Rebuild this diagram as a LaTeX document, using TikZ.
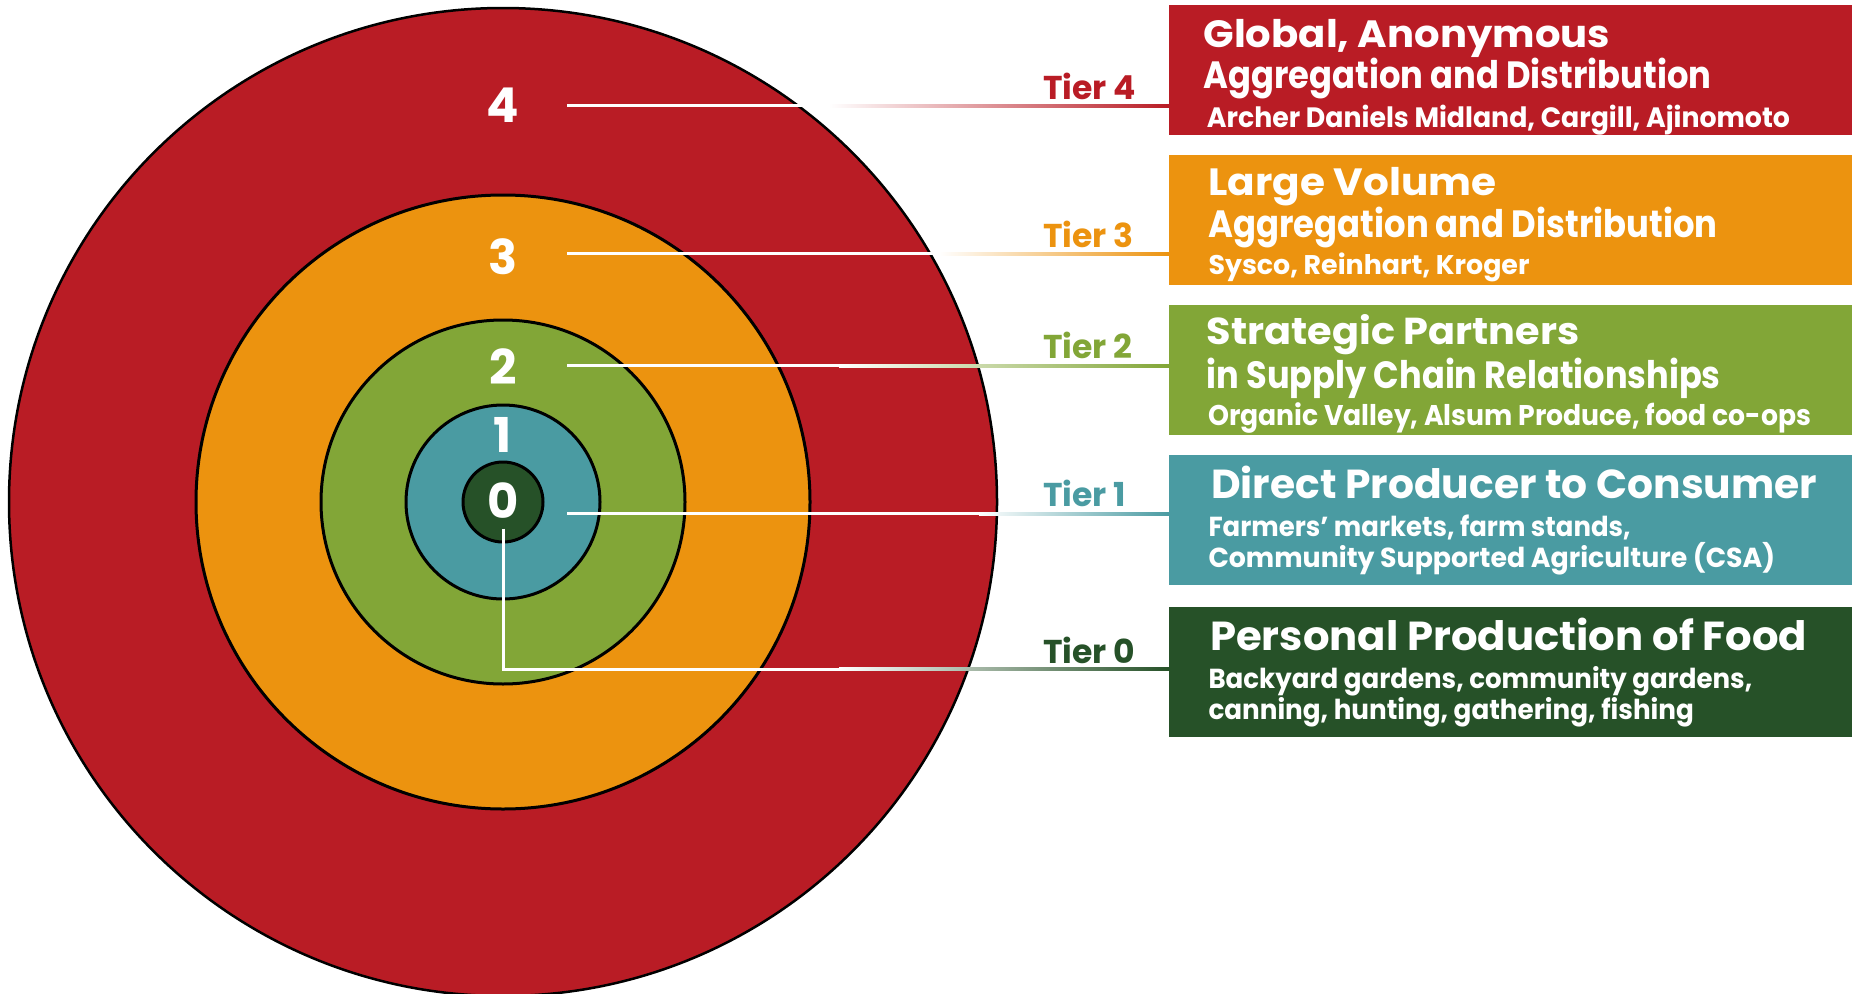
\documentclass[tikz,border=0pt]{standalone}
\usepackage{fontspec}
\usepackage{graphicx}
\setmainfont{Poppins}
\newfontfamily\popfont{Poppins}
\usetikzlibrary{calc}
\definecolor{cfour}{HTML}{B91C25}
\definecolor{cthree}{HTML}{EC930F}
\definecolor{ctwo}{HTML}{82A637}
\definecolor{cone}{HTML}{4A9BA2}
\definecolor{czero}{HTML}{265128}
\newcommand{\fitline}[3]{\fontsize{#1}{#1}\selectfont\resizebox{#2pt}{\height}{#3}}
\tikzset{
  ring/.style={draw=black, line width=3pt},
  numlbl/.style={text=white, font=\popfont\bfseries\fontsize{48}{48}\selectfont, inner sep=0pt, anchor=center},
  tierlbl/.style={font=\popfont\bfseries\fontsize{33}{33}\selectfont, inner sep=0pt, anchor=base west},
  tierbox/.style={draw=none, minimum width=683pt, minimum height=130pt, anchor=north west, inner sep=0pt},
  boxtext/.style={text=white, inner sep=0pt, anchor=base west, font=\popfont\bfseries},
  conn/.style={draw=white, line width=3pt},
}
\begin{document}
\begin{tikzpicture}[x=1pt,y=-1pt]
\useasboundingbox (0,0) rectangle (1852,993);
\fill[white] (0,0) rectangle (1852,993);
% rings
\draw[ring, fill=cfour, line width=2.5pt] (503,502) circle[radius=494];
\draw[ring, fill=cthree] (503,502) circle[radius=307];
\draw[ring, fill=ctwo] (503,502) circle[radius=182];
\draw[ring, fill=cone] (503,502) circle[radius=97];
\draw[ring, fill=czero] (503,502) circle[radius=40];
% boxes
\node[tierbox, fill=cfour] (b4) at (1169,5) {};
\node[tierbox, fill=cthree] (b3) at (1169,155) {};
\node[tierbox, fill=ctwo] (b2) at (1169,305) {};
\node[tierbox, fill=cone] (b1) at (1169,455) {};
\node[tierbox, fill=czero] (b0) at (1169,607) {};
% numbers
\node[numlbl] (n4) at (503,105.5) {4};
\node[numlbl] (n3) at (503,256.5) {3};
\node[numlbl] (n2) at (503,367) {2};
\node[numlbl] (n1) at (503,435) {1};
\node[numlbl] (n0) at (503,500.5) {0};
% connector start points
\coordinate (s4) at (567,105.5);
\coordinate (s3) at (567,253.5);
\coordinate (s2) at (567,365.5);
\coordinate (s1) at (567,513.5);
\coordinate (s0) at (503.3,528.5);
\coordinate (k0) at (503.3,669);
% connectors
\draw[conn] (s4) -- (s4 -| b4.west);
\shade[left color=white, right color=cfour] ($(s4 -| b4.west)+(-340,-1.5)$) rectangle ($(s4 -| b4.west)+(0,1.5)$);
\draw[conn] (s3) -- (s3 -| b3.west);
\shade[left color=white, right color=cthree] ($(s3 -| b3.west)+(-230,-1.5)$) rectangle ($(s3 -| b3.west)+(0,1.5)$);
\draw[conn] (s2) -- (s2 -| b2.west);
\shade[left color=white, right color=ctwo] ($(s2 -| b2.west)+(-330,-1.5)$) rectangle ($(s2 -| b2.west)+(0,1.5)$);
\draw[conn] (s1) -- (s1 -| b1.west);
\shade[left color=white, right color=cone] ($(s1 -| b1.west)+(-190,-1.5)$) rectangle ($(s1 -| b1.west)+(0,1.5)$);
\draw[conn] (s0) -- (k0) -- (k0 -| b0.west);
\shade[left color=white, right color=czero] ($(k0 -| b0.west)+(-330,-1.5)$) rectangle ($(k0 -| b0.west)+(0,1.5)$);
% tier labels
\node[tierlbl, text=cfour] (t4) at (1043,99.5) {Tier 4};
\node[tierlbl, text=cthree] (t3) at (1043,247.8) {Tier 3};
\node[tierlbl, text=ctwo] (t2) at (1043,358.5) {Tier 2};
\node[tierlbl, text=cone] (t1) at (1043,506.8) {Tier 1};
\node[tierlbl, text=czero] (t0) at (1043,663) {Tier 0};
% box texts
\node[boxtext] (r1) at (1203.3,47.7) {\fitline{38}{406.7}{Global, Anonymous}};
\node[boxtext] (r2) at (1203.3,88.3) {\fitline{38}{508}{Aggregation and Distribution}};
\node[boxtext] (r3) at (1206.7,127.5) {\fitline{28}{583}{Archer Daniels Midland, Cargill, Ajinomoto}};
\node[boxtext] (o1) at (1208.3,195) {\fitline{38}{288}{Large Volume}};
\node[boxtext] (o2) at (1208.3,237.7) {\fitline{38}{509}{Aggregation and Distribution}};
\node[boxtext] (o3) at (1208.3,274) {\fitline{27}{321}{Sysco, Reinhart, Kroger}};
\node[boxtext] (g1) at (1206.7,344.3) {\fitline{37.5}{372.5}{Strategic Partners}};
\node[boxtext] (g2) at (1206.7,388.3) {\fitline{38}{513.7}{in Supply Chain Relationships}};
\node[boxtext] (g3) at (1208,425) {\fitline{28.5}{603}{Organic Valley, Alsum Produce, food co-ops}};
\node[boxtext] (e1) at (1211,498.3) {\fitline{40.5}{606}{Direct Producer to Consumer}};
\node[boxtext] (e2) at (1208.3,536.7) {\fitline{27.5}{422}{Farmers’ markets, farm stands,}};
\node[boxtext] (e3) at (1208.3,567.7) {\fitline{27.5}{566.6}{Community Supported Agriculture (CSA)}};
\node[boxtext] (d1) at (1210,650.3) {\fitline{40.5}{597}{Personal Production of Food}};
\node[boxtext] (d2) at (1208.3,688.7) {\fitline{27.5}{543.7}{Backyard gardens, community gardens,}};
\node[boxtext] (d3) at (1208.3,719.7) {\fitline{27.5}{485.4}{canning, hunting, gathering, fishing}};
\end{tikzpicture}
\end{document}
